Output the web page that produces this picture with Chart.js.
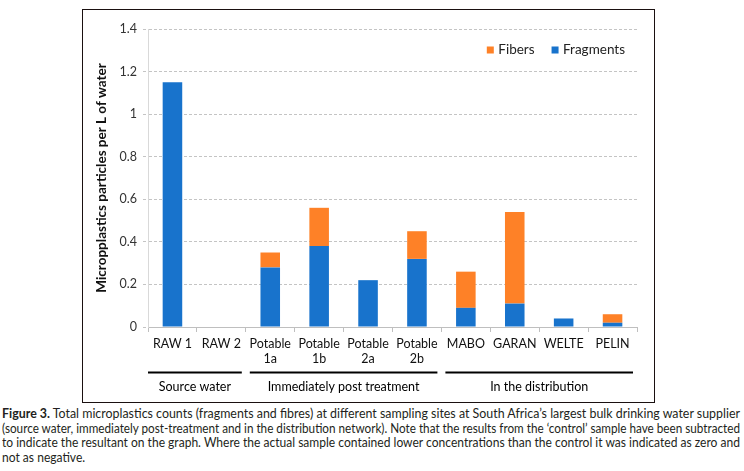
<!DOCTYPE html>
<html>
<head>
<meta charset="utf-8">
<script src="https://cdn.jsdelivr.net/npm/chart.js@4.4.1/dist/chart.umd.min.js"></script>
<style>
  html, body { margin: 0; padding: 0; background: #fff; }
  body { width: 744px; height: 471px; position: relative; overflow: hidden; }
  #wrap { position: absolute; left: 0; top: 0; width: 744px; height: 404px; }
  #frame { position: absolute; left: 82px; top: 9px; width: 573px; height: 394px; box-sizing: border-box; border: 1.5px solid #1a1010; pointer-events: none; }
  #caption { position: absolute; left: 2px; top: 406px; width: 738px; font-family: Lato, "Open Sans", sans-serif; font-size: 13px; line-height: 14.6px; color: #231f20; }
  #caption .ln { display: block; height: 14.6px; white-space: nowrap; }
  #caption .ln span { display: inline-block; white-space: nowrap; transform-origin: 0 0; word-spacing: 0; }
</style>
</head>
<body>
<div id="wrap"><canvas id="c" width="744" height="404"></canvas></div>
<div id="frame"></div>
<div id="caption">
  <div class="ln"><span><b>Figure 3.</b> Total microplastics counts (fragments and fibres) at different sampling sites at South Africa’s largest bulk drinking water supplier</span></div>
  <div class="ln"><span>(source water, immediately post-treatment and in the distribution network). Note that the results from the ‘control’ sample have been subtracted</span></div>
  <div class="ln"><span>to indicate the resultant on the graph. Where the actual sample contained lower concentrations than the control it was indicated as zero and</span></div>
  <div class="ln last"><span>not as negative.</span></div>
</div>
<script>
const categories = ['RAW 1', 'RAW 2', ['Potable', '1a'], ['Potable', '1b'], ['Potable', '2a'], ['Potable', '2b'], 'MABO', 'GARAN', 'WELTE', 'PELIN'];
const fragments = [1.15, 0, 0.28, 0.38, 0.22, 0.32, 0.09, 0.11, 0.04, 0.02];
const fibers = [0, 0, 0.07, 0.18, 0, 0.13, 0.17, 0.43, 0, 0.04];
const groupNames = ['Source water', 'Immediately post treatment', 'In the distribution'];
const groupStart = [0, 2, 6];
const groupEnd = [1, 5, 9];
const yTitle = 'Micropplastics particles per L of water';

const FONT = 'Lato, "Open Sans", sans-serif';

// fit caption lines to the full width (justified, condensed look)
(function () {
  const lines = document.querySelectorAll('#caption .ln span');
  let scales = [];
  lines.forEach((s, i) => {
    if (i < lines.length - 1) {
      const w = s.getBoundingClientRect().width;
      const sc = 738 / w;
      scales.push(sc);
      s.style.transform = 'scaleX(' + sc + ')';
    }
  });
  const avg = scales.reduce((a, b) => a + b, 0) / scales.length;
  lines[lines.length - 1].style.transform = 'scaleX(' + avg + ')';
})();

const groupPlugin = {
  id: 'groups',
  afterDraw(chart) {
    const ctx = chart.ctx;
    const xs = chart.scales.x;
    const half = (xs.getPixelForValue(1) - xs.getPixelForValue(0)) / 2;
    const base = chart.chartArea.bottom;
    ctx.save();
    ctx.strokeStyle = '#000';
    ctx.lineWidth = 2;
    ctx.fillStyle = '#000';
    ctx.font = '12.5px ' + FONT;
    ctx.textAlign = 'center';
    ctx.textBaseline = 'middle';
    for (let i = 0; i < groupNames.length; i++) {
      const x0 = xs.getPixelForValue(groupStart[i]) - half + (i === 0 ? 0 : 4);
      const x1 = xs.getPixelForValue(groupEnd[i]) + half - 4;
      ctx.beginPath();
      ctx.moveTo(x0, base + 45.5);
      ctx.lineTo(x1, base + 45.5);
      ctx.stroke();
      ctx.fillText(groupNames[i], (x0 + x1) / 2, base + 60);
    }
    ctx.restore();
  }
};

const legendPlugin = {
  id: 'innerLegend',
  afterDraw(chart) {
    const ctx = chart.ctx;
    const area = chart.chartArea;
    const items = chart.data.datasets.map(d => ({ text: d.label, color: d.backgroundColor })).reverse();
    ctx.save();
    ctx.font = '13.5px ' + FONT;
    ctx.textBaseline = 'middle';
    ctx.textAlign = 'left';
    const y = area.top + 21;
    let x = area.right - 12;
    for (let i = items.length - 1; i >= 0; i--) {
      const w = ctx.measureText(items[i].text).width;
      const tx = x - w;
      ctx.fillStyle = '#222';
      ctx.fillText(items[i].text, tx, y);
      ctx.fillStyle = items[i].color;
      ctx.fillRect(tx - 4.5 - 7, y - 3.5, 7, 7);
      x = tx - 4.5 - 7 - 17;
    }
    ctx.restore();
  }
};

new Chart(document.getElementById('c'), {
  type: 'bar',
  data: {
    labels: categories,
    datasets: [
      { label: 'Fragments', data: fragments, backgroundColor: '#1873cc', borderWidth: 0, barPercentage: 0.4, categoryPercentage: 1 },
      { label: 'Fibers', data: fibers, backgroundColor: '#fe8127', borderWidth: 0, barPercentage: 0.4, categoryPercentage: 1 }
    ]
  },
  options: {
    responsive: false,
    animation: false,
    devicePixelRatio: 1,
    layout: { padding: { left: 92, right: 107, top: 29, bottom: 0 } },
    plugins: {
      tooltip: { enabled: false },
      legend: { display: false }
    },
    scales: {
      x: {
        stacked: true,
        afterFit(s) { s.height = 77; },
        grid: { drawOnChartArea: false, drawTicks: true, tickLength: 5, color: '#bfbfbf', offset: true },
        border: { color: '#bfbfbf', width: 1 },
        ticks: { color: '#111', font: { family: FONT, size: 12.5, lineHeight: 1.2 }, padding: 4, maxRotation: 0, autoSkip: false }
      },
      y: {
        stacked: true,
        min: 0, max: 1.4,
        afterFit(s) { s.width = 56; },
        grid: { color: '#c4c4c4', tickLength: 5, tickBorderDash: [3, 2] },
        border: { color: '#d9d9d9', width: 1, dash: [3, 2] },
        ticks: {
          stepSize: 0.2, color: '#333', font: { family: FONT, size: 12.5 }, padding: 6,
          callback: v => String(parseFloat(Number(v).toFixed(2)))
        },
        title: { display: true, text: yTitle, color: '#111', font: { family: FONT, size: 13.5, weight: 'bold' }, padding: { top: 2, bottom: 0 } }
      }
    }
  },
  plugins: [groupPlugin, legendPlugin]
});
</script>
</body>
</html>
